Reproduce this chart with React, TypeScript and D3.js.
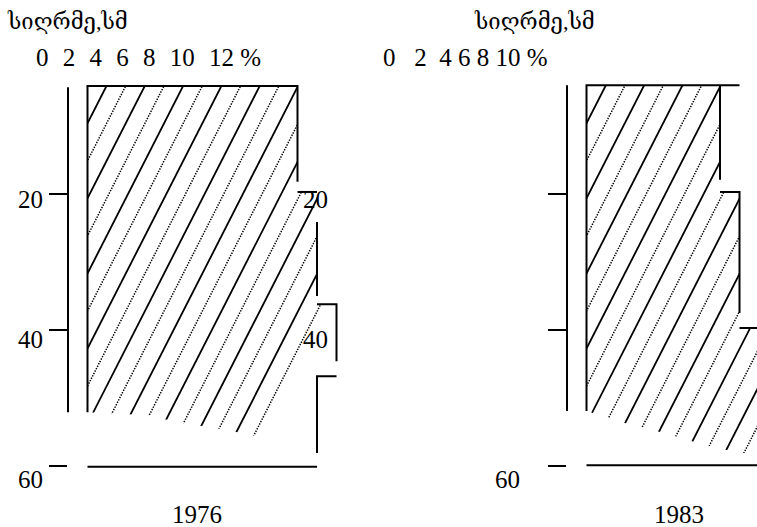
import React from "react";
import * as d3 from "d3";

const title = "სიღრმე,სმ";
const years = ["1976", "1983"];
const xTicks1976 = ["0", "2", "4", "6", "8", "10", "12"];
const xTicks1983 = ["0", "2", "4", "6", "8", "10"];
const depthTicks = [20, 40, 60];

// axis line of each profile: [%, depth]
const axis1976 = [[2, 4.3], [2, 52.1]];
const axis1983 = [[2, 4.0], [2, 51.9]];

// outline of each profile, as separate strokes [%, depth]
const outline1976 = [
  [[3.3, 52.1], [3.3, 4.1], [17.3, 4.1], [17.3, 18.2]],
  [[17.3, 19.7], [18.6, 19.7]],
  [[18.6, 24.1], [18.6, 35.0]],
  [[18.6, 36.2], [19.9, 36.2], [19.9, 44.6]],
  [[19.9, 46.8], [18.6, 46.8], [18.6, 58.1]],
  [[3.3, 60.1], [18.6, 60.1]],
];
const outline1983 = [
  [[3.3, 51.9], [3.3, 4.0], [13.5, 4.0]],
  [[12.2, 4.0], [12.2, 17.9]],
  [[12.2, 19.7], [13.5, 19.7], [13.5, 37.5]],
  [[13.5, 39.7], [17.5, 39.7]],
  [[3.3, 59.9], [17.5, 59.9]],
];

// hatched area of each profile [%, depth]
const hatch1976 = [
  [3.3, 4.1], [17.3, 4.1], [17.3, 19.7], [18.6, 19.7], [18.6, 36.2], [19.9, 36.2],
  [19.9, 46.8], [18.6, 46.8], [18.6, 58.1], [17.3, 58.1], [14.8, 55.7], [12.3, 54.6],
  [9.7, 53.7], [7.1, 52.5], [3.3, 52.1],
];
const hatch1983 = [
  [3.3, 4.0], [12.2, 4.0], [12.2, 19.7], [13.5, 19.7], [13.5, 39.7], [17.5, 39.7],
  [17.5, 58.1], [13.5, 58.1], [11.0, 56.8], [8.4, 55.1], [5.9, 53.7], [3.3, 51.9],
];

const W = 757;
const H = 527;
const FONT = "'Liberation Serif', 'DejaVu Serif', 'DejaVu Sans', serif";
const FS = 25;
const NB = "\u00A0";

const x = d3.scaleLinear().domain([0, 20]).range([38, 338]);
const y = d3.scaleLinear().domain([0, 60]).range([58, 466]);
const yLabel = d3.scaleLinear().domain([20, 60]).range([208, 488]);
const line = d3.line<number[]>().x((d) => x(d[0])).y((d) => y(d[1]));

const HATCH_STEP = 19.15;
const HATCH_SLOPE = 0.51;
const HATCH_X0 = 298;
const HATCH_Y0 = 86;

function Panel({ id, dx, axis, outline, hatch }: any) {
  const hatchLines = d3.range(-18, 8).map((k) => {
    const xt = HATCH_X0 + k * HATCH_STEP;
    const solid = k % 2 === 0;
    return (
      <line
        key={k}
        x1={xt + HATCH_SLOPE * HATCH_Y0}
        y1={0}
        x2={xt - HATCH_SLOPE * (H - HATCH_Y0)}
        y2={H}
        stroke="#000"
        strokeWidth={solid ? 1.8 : 1.5}
        strokeDasharray={solid ? undefined : "1.4 1.3"}
      />
    );
  });
  const ax = x(axis[0][0]);
  return (
    <g transform={`translate(${dx},0)`}>
      <defs>
        <clipPath id={id}>
          <path d={line(hatch) + "Z"} />
        </clipPath>
      </defs>
      <g clipPath={`url(#${id})`}>{hatchLines}</g>
      <path d={line(axis) || ""} stroke="#000" strokeWidth={2} fill="none" />
      {depthTicks.map((t) => (
        <line key={t} x1={ax - 19} x2={ax - 1} y1={y(t)} y2={y(t)} stroke="#000" strokeWidth={2} />
      ))}
      {outline.map((seg: number[][], i: number) => (
        <path key={i} d={line(seg) || ""} stroke="#000" strokeWidth={2} fill="none" />
      ))}
    </g>
  );
}

export default function App() {
  return (
    <svg
      width={W}
      height={H}
      style={{ position: "absolute", left: 0, top: 0, background: "#fff" }}
      fontFamily={FONT}
    >
      <rect width={W} height={H} fill="#fff" />
      <Panel id="h1976" dx={0} axis={axis1976} outline={outline1976} hatch={hatch1976} />
      <Panel id="h1983" dx={499} axis={axis1983} outline={outline1983} hatch={hatch1983} />

      <text x={8} y={29} fontSize={22}>{title}</text>
      <text x={475} y={29} fontSize={22}>{title}</text>

      <text x={36} y={66} fontSize={FS}>
        <tspan style={{ wordSpacing: "8px" }}>{xTicks1976.join(" ")}</tspan>
        <tspan> %</tspan>
      </text>
      <text x={383} y={66} fontSize={FS}>
        {[xTicks1983[0], NB + NB + NB, xTicks1983[1], NB + NB, xTicks1983.slice(2).join(NB), NB + "%"].join("")}
      </text>

      {depthTicks.map((t) => (
        <text key={"l" + t} x={43} y={yLabel(t)} fontSize={FS} textAnchor="end">{t}</text>
      ))}
      {depthTicks.slice(0, 2).map((t) => (
        <text key={"m" + t} x={328} y={yLabel(t)} fontSize={FS} textAnchor="end">{t}</text>
      ))}
      <text x={520} y={yLabel(60)} fontSize={FS} textAnchor="end">{depthTicks[2]}</text>

      <text x={197} y={523} fontSize={FS} textAnchor="middle">{years[0]}</text>
      <text x={679} y={523} fontSize={FS} textAnchor="middle">{years[1]}</text>
    </svg>
  );
}
